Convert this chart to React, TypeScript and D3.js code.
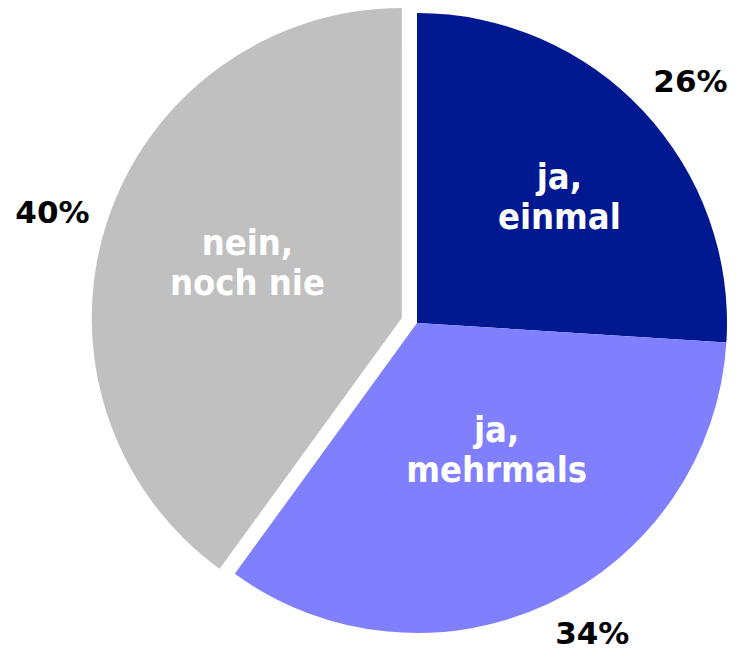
import React, { useEffect, useRef } from 'react';
import * as d3 from 'd3';

// chart data
const categories = ['ja,\neinmal', 'ja,\nmehrmals', 'nein,\nnoch nie'];
const shares = [26, 34, 40];
const colors = ['#001890', '#8080FF', '#C0C0C0'];

const App = () => {
  const ref = useRef<SVGSVGElement | null>(null);

  useEffect(() => {
    const width = 736;
    const height = 653;
    const radius = 310;
    const cx = 417;
    const cy = 323;

    const svg = d3.select(ref.current);
    svg.selectAll('*').remove();

    const pie = d3.pie<number>().sort(null).value(d => d);
    const arcs = pie(shares);

    const arc = d3.arc<d3.PieArcDatum<number>>().innerRadius(0).outerRadius(radius);

    // only the last slice is pulled out
    const explode = [0, 0, 16];
    const shift = (d: d3.PieArcDatum<number>, i: number) => {
      const mid = (d.startAngle + d.endAngle) / 2;
      return [Math.sin(mid) * explode[i], -Math.cos(mid) * explode[i]];
    };

    // label placement tweaks (Excel "best fit" style)
    const innerR = [190, 150, 164];
    const innerTurn = [0.03, -0.12, 0.03];
    const outerR = [365, 356, 365];
    const outerTurn = [0.03, -0.075, -0.02];

    const g = svg.append('g').attr('transform', `translate(${cx},${cy})`);

    const slices = g.selectAll('g.slice')
      .data(arcs)
      .enter()
      .append('g')
      .attr('class', 'slice')
      .attr('transform', (d, i) => {
        const [dx, dy] = shift(d, i);
        return `translate(${dx},${dy})`;
      });

    slices.append('path')
      .attr('d', arc)
      .attr('fill', (d, i) => colors[i]);

    // category labels inside the slices
    slices.append('text')
      .attr('text-anchor', 'middle')
      .attr('fill', '#ffffff')
      .style('font-family', '"DejaVu Sans Condensed", "DejaVu Sans", sans-serif')
      .style('font-weight', 'bold')
      .style('font-size', '36px')
      .each(function (d, i) {
        const a = (d.startAngle + d.endAngle) / 2 + innerTurn[i];
        const x = Math.sin(a) * innerR[i];
        const y = -Math.cos(a) * innerR[i];
        const lines = categories[i].split('\n');
        const gap = 40;
        lines.forEach((line, k) => {
          d3.select(this).append('tspan')
            .attr('x', x)
            .attr('y', y + (k - (lines.length - 1) / 2) * gap + 12)
            .text(line);
        });
      });

    // percentage labels outside
    slices.append('text')
      .attr('text-anchor', 'middle')
      .attr('fill', '#000000')
      .style('font-family', '"DejaVu Sans", sans-serif')
      .style('font-weight', 'bold')
      .style('font-size', '31px')
      .attr('x', (d, i) => Math.sin((d.startAngle + d.endAngle) / 2 + outerTurn[i]) * outerR[i])
      .attr('y', (d, i) => -Math.cos((d.startAngle + d.endAngle) / 2 + outerTurn[i]) * outerR[i] + 11)
      .text((d, i) => `${shares[i]}%`);

    svg.attr('width', width).attr('height', height);
  }, []);

  return (
    <svg
      ref={ref}
      width={736}
      height={653}
      style={{ position: 'absolute', left: 0, top: 0, background: '#ffffff' }}
    />
  );
};

export default App;
